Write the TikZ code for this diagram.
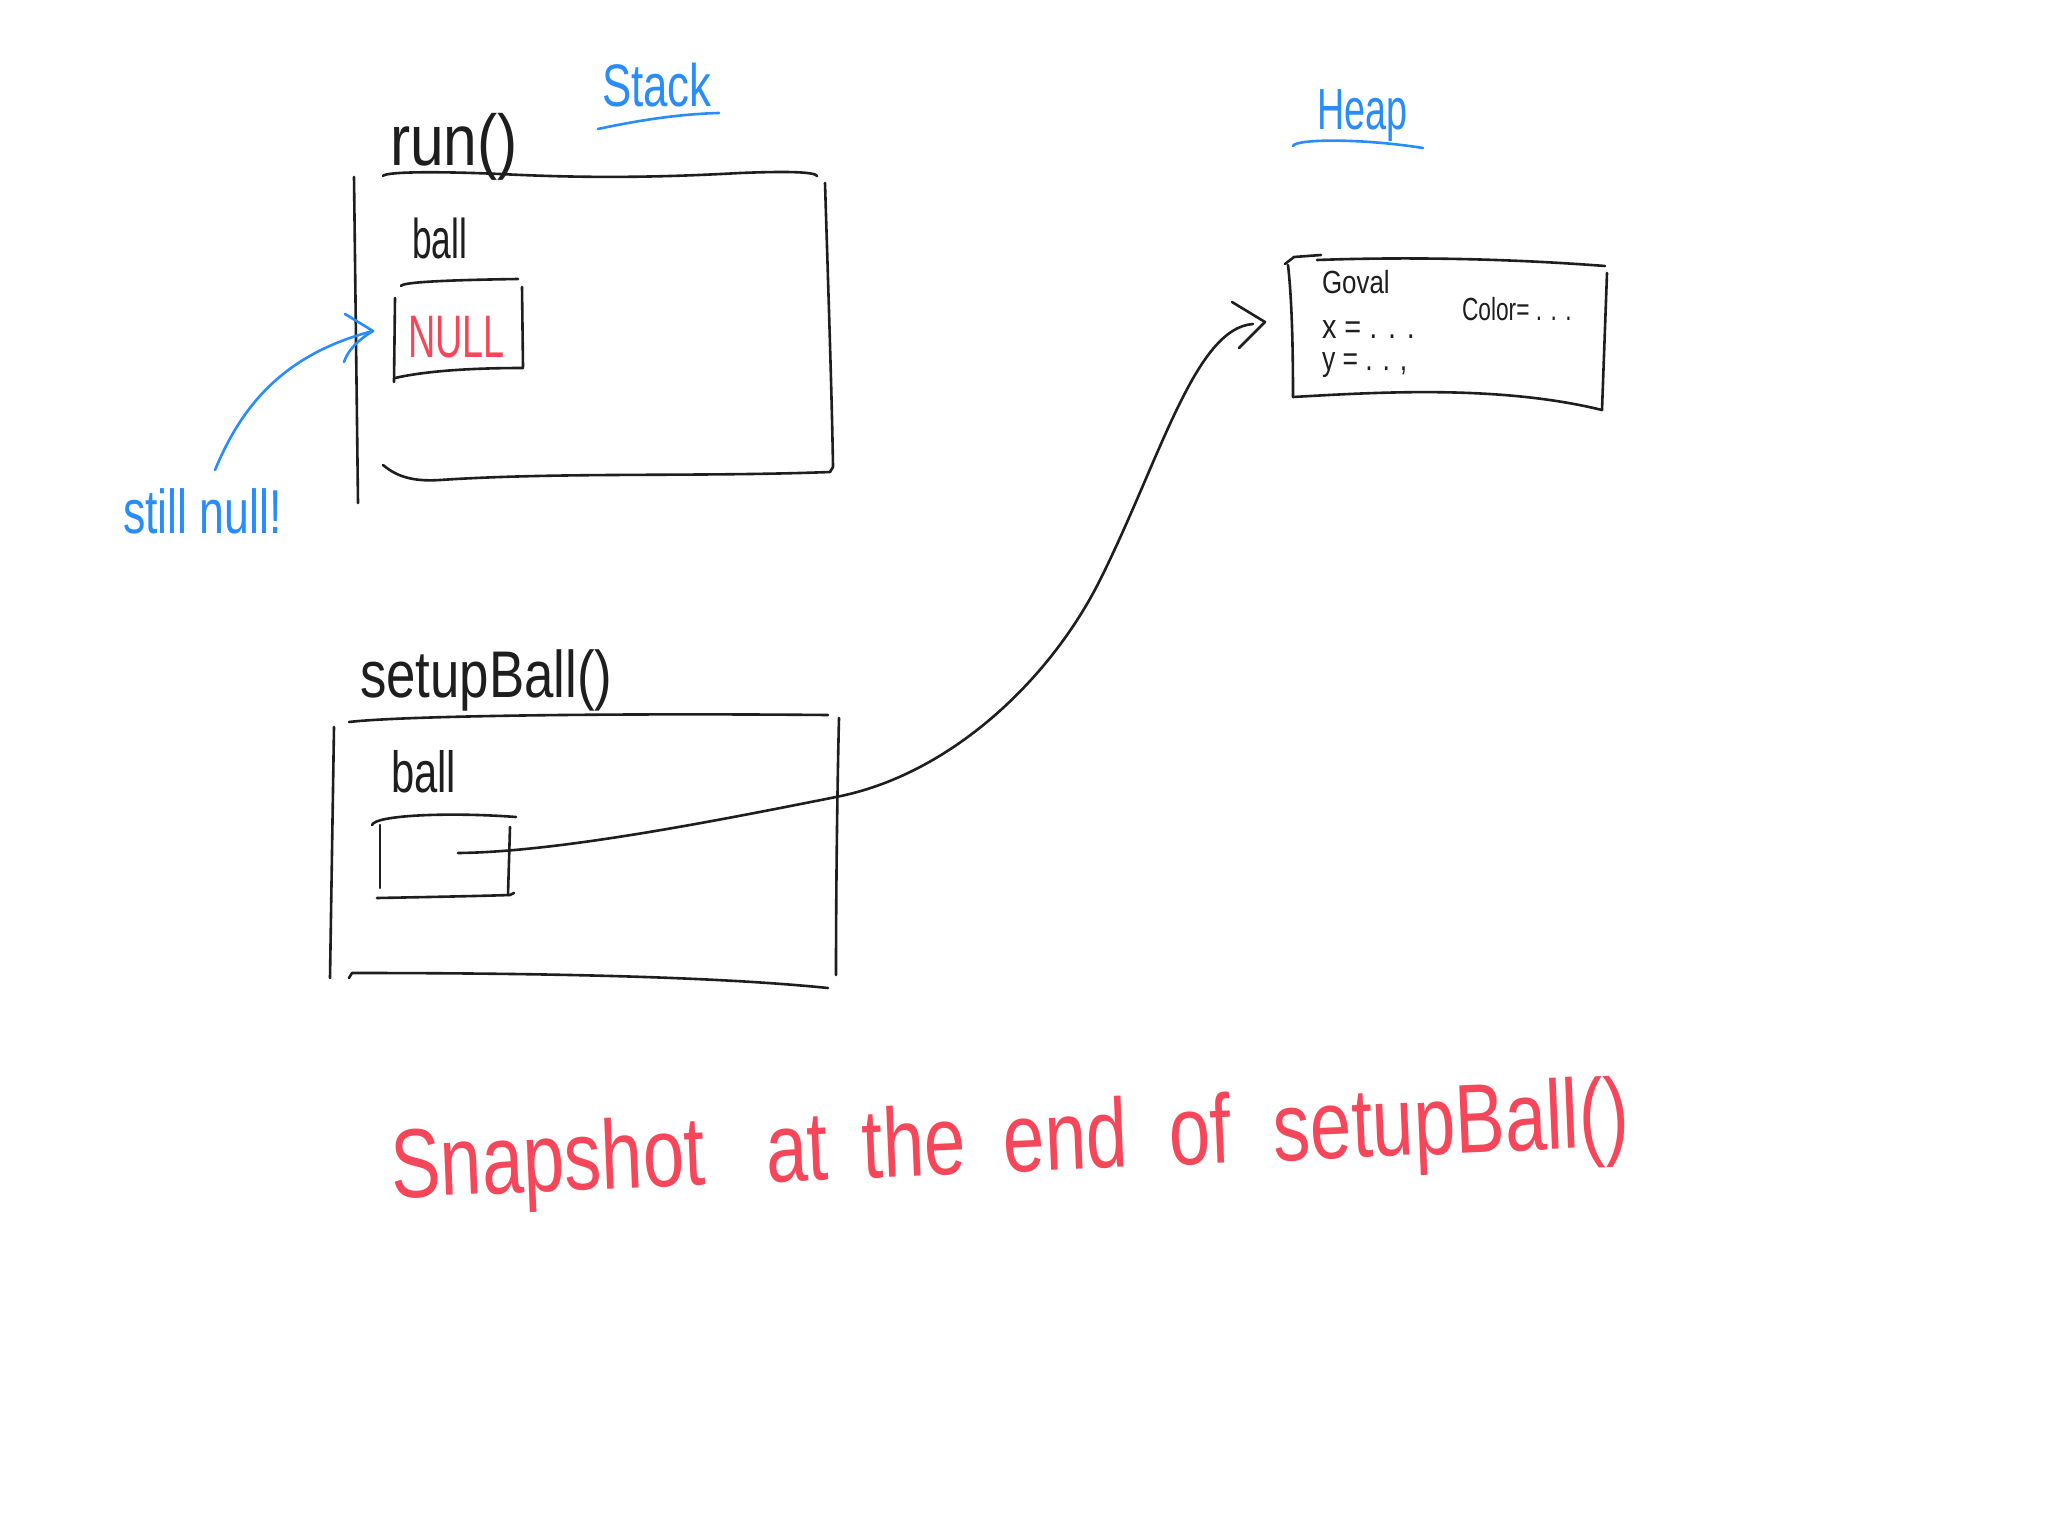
\documentclass[tikz,border=0pt]{standalone}
\usepackage{fontspec}
\setmainfont{Liberation Sans}
\usepackage{graphicx}
\definecolor{ink}{RGB}{30,30,30}
\definecolor{hblue}{RGB}{40,140,250}
\definecolor{hred}{RGB}{245,70,90}
\newcommand\hwtext[3]{\fontsize{#1}{#1}\selectfont\scalebox{#2}[1]{#3}}
\begin{document}
\begin{tikzpicture}[x=1pt,y=-1pt,
  stroke/.style={draw=ink, line width=2.6pt, line cap=round, line join=round},
  bstroke/.style={draw=hblue, line width=2.6pt, line cap=round, line join=round},
  txt/.style={inner sep=0pt, outer sep=0pt, anchor=base west, text=ink},
  btxt/.style={txt, text=hblue},
  rtxt/.style={txt, text=hred}]
\fill[white] (0,0) rectangle (2048,1536);
\useasboundingbox (0,0) rectangle (2048,1536);

% ---------- titles ----------
\node[btxt] (stack) at (602,107) {\hwtext{60}{0.73}{Stack}};
\draw[bstroke] (598,129) .. controls (640,120) and (680,114) .. (719,113);
\node[btxt] (heap) at (1317,130) {\hwtext{58}{0.65}{Heap}};
\draw[bstroke] (1293,146) .. controls (1295,139) and (1360,138) .. (1423,148);

% ---------- run() frame ----------
\node[txt] (runlbl) at (390,165) {\hwtext{72}{0.84}{run()}};
\draw[stroke] (383,176) .. controls (385,172) and (430,171) .. (500,174) .. controls (580,178) and (650,178) .. (740,173) .. controls (790,171) and (815,172) .. (817,176);
\draw[stroke] (354,177) -- (358,503);
\draw[stroke] (825,183) .. controls (828,280) and (832,400) .. (833,467) -- (830,472);
\draw[stroke] (383,465) .. controls (395,475) and (410,482) .. (440,480) .. controls (560,472) and (700,477) .. (830,472);
\node[txt] (runball) at (412,258) {\hwtext{56}{0.63}{ball}};
% NULL box
\draw[stroke] (401,286) .. controls (402,282) and (450,280) .. (518,279);
\draw[stroke] (522,287) -- (523,367);
\draw[stroke] (395,378) .. controls (430,370) and (480,368) .. (523,368);
\draw[stroke] (395,298) -- (394,382);
\node[rtxt] (null) at (408,357) {\hwtext{60}{0.63}{NULL}};

% ---------- note ----------
\node[btxt] (note) at (123,533) {\hwtext{62}{0.72}{still null!}};
\coordinate (notestart) at (215,470);
\coordinate (nulltip) at (373,331);
\draw[bstroke] (notestart) .. controls (240,410) and (280,355) .. (nulltip);
\draw[bstroke] (345,314) -- (nulltip) .. controls (358,340) and (348,350) .. (344,362);

% ---------- setupBall() frame ----------
\node[txt] (setuplbl) at (360,697) {\hwtext{66}{0.8}{setupBall()}};
\draw[stroke] (349,722) .. controls (400,716) and (600,713) .. (828,715);
\draw[stroke] (334,727) -- (330,978);
\draw[stroke] (839,718) .. controls (837,800) and (836,900) .. (836,975);
\draw[stroke] (349,978) -- (352,973) .. controls (500,973) and (700,975) .. (828,988);
\node[txt] (setupball) at (391,792) {\hwtext{58}{0.72}{ball}};
% pointer box
\draw[stroke] (372,825) .. controls (375,815) and (450,812) .. (516,817);
\draw[stroke] (380,825) -- (380,888);
\draw[stroke] (510,827) -- (508,895);
\draw[stroke] (377,898) .. controls (430,897) and (480,896) .. (510,895) -- (514,893);

% ---------- heap object ----------
\draw[stroke] (1285,264) -- (1294,257) -- (1321,255);
\draw[stroke] (1317,260) .. controls (1400,257) and (1500,258) .. (1605,266);
\draw[stroke] (1288,265) .. controls (1292,300) and (1293,350) .. (1293,397);
\draw[stroke] (1293,397) .. controls (1380,392) and (1500,385) .. (1602,410);
\draw[stroke] (1607,273) -- (1602,410);
\node[txt] (goval) at (1322,293) {\hwtext{32}{0.81}{Goval}};
\node[txt] (xval) at (1322,338) {\hwtext{34}{0.85}{x = . . .}};
\node[txt] (yval) at (1322,370) {\hwtext{34}{0.78}{y = . . ,}};
\node[txt] (cval) at (1462,320) {\hwtext{32}{0.71}{Color= . . .}};

% ---------- pointer ----------
\coordinate (ptrstart) at (458,853);
\coordinate (heaptip) at (1265,322);
\draw[stroke] (ptrstart) .. controls (560,852) and (720,820) .. (836,797)
  .. controls (950,775) and (1050,680) .. (1100,580)
  .. controls (1160,460) and (1195,328) .. (1253,324);
\draw[stroke] (1232,302) -- (heaptip) -- (1239,348);

% ---------- caption ----------
\node[rtxt, rotate=2.4] (caption) at (392,1198) {\hwtext{98}{0.76}{Snapshot\hspace{80pt}at\hspace{45pt}the\hspace{50pt}end\hspace{55pt}of\hspace{55pt}setupBall()}};
\end{tikzpicture}
\end{document}
